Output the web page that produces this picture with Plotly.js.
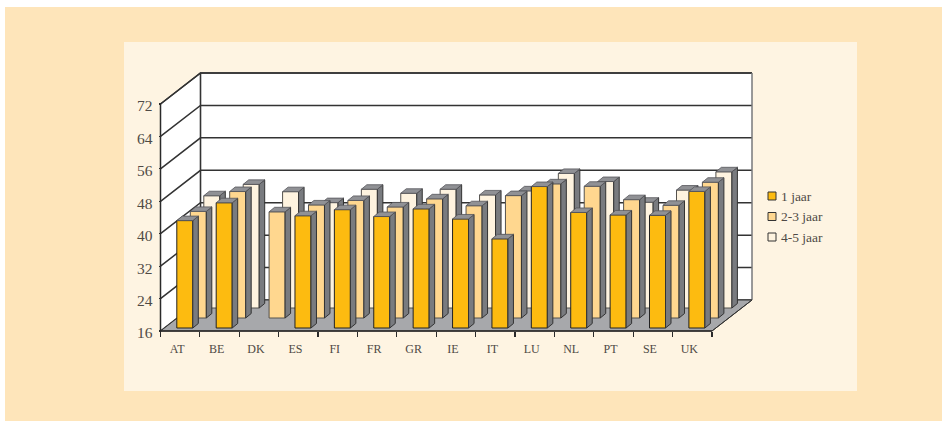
<!DOCTYPE html>
<html><head><meta charset="utf-8">
<script src="https://cdn.plot.ly/plotly-3.0.1.min.js"></script>
<style>html,body{margin:0;padding:0;background:#fff}#c{width:942px;height:421px}</style>
</head><body><div id="c"></div>
<script>
const categories = ['AT','BE','DK','ES','FI','FR','GR','IE','IT','LU','NL','PT','SE','UK'];
const seriesNames = ['1 jaar','2-3 jaar','4-5 jaar'];
const jaar1  = [42.5,46.9,null,43.7,45.2,43.5,45.4,42.9,38.0,50.9,44.5,43.9,43.8,49.7];
const jaar23 = [42.3,47.2,42.2,43.9,45.0,43.4,45.4,43.7,46.2,49.1,48.5,45.2,43.8,49.5];
const jaar45 = [43.7,46.5,44.7,42.0,45.3,44.3,45.3,43.9,44.9,49.2,47.2,42.1,45.1,49.6];
const seriesValues = [jaar1, jaar23, jaar45];
const seriesColors = ['#FDBB10','#FFD78F','#FEF3DF'];
const yTicks = [16,24,32,40,48,56,64,72];

const W = 942, H = 421;
const L = 160.5, R = 712, B = 331, T = 104;
const yMin = 16, yMax = 72;
const cx = (R - L) / categories.length;          // px per category
const cy = (B - T) / (yMax - yMin);              // px per value unit
const px = p => p / cx, py = p => p / cy;
const depthX = px(40), depthY = py(31);
const x0 = -0.5, x1 = categories.length - 0.5;
const FONT = '"Liberation Serif", serif', INK = '#4f4a45', EDGE = '#333333';

const traces = [];
const plain = {type:'scatter',mode:'lines',zorder:-1,hoverinfo:'skip',showlegend:false};
// walls and floor
traces.push({...plain,fill:'toself',fillcolor:'#ffffff',line:{color:'#ffffff',width:0},
  x:[x0,x0+depthX,x1+depthX,x1+depthX,x0+depthX,x0,x0],
  y:[yMin,yMin+depthY,yMin+depthY,yMax+depthY,yMax+depthY,yMax,yMin]});
const gx = [], gy = [];
yTicks.forEach(v => {
  gx.push(x0, x0+depthX, x1+depthX, null); gy.push(v, v+depthY, v+depthY, null);
});
traces.push({...plain,line:{color:'#333333',width:1.5},x:gx,y:gy});
traces.push({...plain,line:{color:'#333333',width:1.5},
  x:[x0,x0+depthX,x1+depthX],y:[yMax,yMax+depthY,yMax+depthY]});
traces.push({...plain,line:{color:'#333333',width:1.6},
  x:[x0+depthX,x0+depthX],y:[yMin+depthY,yMax+depthY]});
traces.push({...plain,line:{color:'#77787b',width:1.5},
  x:[x1+depthX,x1+depthX],y:[yMin+depthY,yMax+depthY]});
traces.push({...plain,fill:'toself',fillcolor:'#a7a8ab',line:{color:EDGE,width:1},
  x:[x0,x0+depthX,x1+depthX,x1,x0],y:[yMin,yMin+depthY,yMin+depthY,yMin,yMin]});

// bars, back row first
const barW = px(16), sideX = px(5.5), sideY = py(4.5);
for (let k = 2; k >= 0; k--) {
  const vals = seriesValues[k];
  const off = px(-3.4 + 13.5 * k);
  const lift = py(3 + 10 * k);
  const layer = 2 - k;
  const sx = [], sy = [], tx = [], ty = [];
  vals.forEach((v, i) => {
    if (v === null) return;
    const xl = i + off, xr = xl + barW, top = v + lift, base = yMin + lift;
    sx.push(xr, xr+sideX, xr+sideX, xr, xr, null);
    sy.push(top, top+sideY, base+sideY, base, top, null);
    tx.push(xl, xl+sideX, xr+sideX, xr, xl, null);
    ty.push(top, top+sideY, top+sideY, top, top, null);
  });
  traces.push({type:'bar',name:seriesNames[k],zorder:layer,
    x:categories.map((c,i)=>i),y:vals.map(v=>v===null?null:v-yMin),base:yMin+lift,
    width:barW,offset:off,showlegend:false,
    marker:{color:seriesColors[k],line:{color:k===0?'#222222':'#55524e',width:1}}});
  traces.push({...plain,zorder:layer,fill:'toself',fillcolor:'#797b7f',line:{color:EDGE,width:1},x:sx,y:sy});
  traces.push({...plain,zorder:layer,fill:'toself',fillcolor:'#909195',line:{color:'#55565a',width:0.8},x:tx,y:ty});
}
// axis lines in front of everything
traces.push({...plain,zorder:3,line:{color:'#2a2a2a',width:1.5},x:[x0,x0,x1],y:[yMax,yMin,yMin]});
traces.push({...plain,zorder:3,line:{color:'#333333',width:1},x:[x1,x1+depthX],y:[yMin,yMin+depthY]});

// page panels and hand-placed legend
const rect = (a,b,c,d,fill,line) => ({type:'rect',xref:'paper',yref:'paper',layer:'below',
  x0:a/W,x1:c/W,y0:1-b/H,y1:1-d/H,fillcolor:fill,line:line?{color:line,width:1}:{width:0}});
const shapes = [rect(5,7,W,H,'#FEE5BA'), rect(124,42,857,391,'#FEF4E2')];
const annotations = [];
[196,216.5,237].forEach((yy,k) => {
  const s = rect(768,yy-4,776,yy+4,seriesColors[k],'#333333'); s.layer='above'; shapes.push(s);
  annotations.push({xref:'paper',yref:'paper',x:781/W,y:1-yy/H,xanchor:'left',yanchor:'middle',showarrow:false,
    text:seriesNames[k],font:{family:FONT,size:13.5,color:INK},borderpad:0,borderwidth:0});
});

const layout = {
  width:W,height:H,margin:{l:0,r:0,t:0,b:0},paper_bgcolor:'#ffffff',plot_bgcolor:'rgba(0,0,0,0)',
  showlegend:false,barmode:'overlay',shapes,annotations,
  xaxis:{type:'linear',domain:[0,1],range:[x0-L/cx,x1+(W-R)/cx],anchor:'free',position:1-B/H,
    tickmode:'array',tickvals:categories.map((c,i)=>i),ticktext:categories,ticks:'',ticklabelshift:-3,ticklabelstandoff:9,
    tickfont:{family:FONT,size:12,color:INK},showgrid:false,zeroline:false,showline:false,
    minor:{tickmode:'array',tickvals:categories.map((c,i)=>i-0.5).concat([x1]),ticks:'outside',ticklen:5,tickwidth:1.2,tickcolor:'#2a2a2a',showgrid:false}},
  yaxis:{type:'linear',domain:[0,1],range:[yMin-(H-B)/cy,yMax+T/cy],anchor:'free',position:L/W,
    tickmode:'array',tickvals:yTicks,ticks:'outside',ticklen:2,tickwidth:1.2,tickcolor:'#2a2a2a',
    ticklabelshift:2,ticklabelstandoff:3,
    tickfont:{family:FONT,size:15.5,color:INK},showgrid:false,zeroline:false,showline:false}
};
Plotly.newPlot('c',traces,layout,{staticPlot:true,displayModeBar:false});
</script></body></html>
